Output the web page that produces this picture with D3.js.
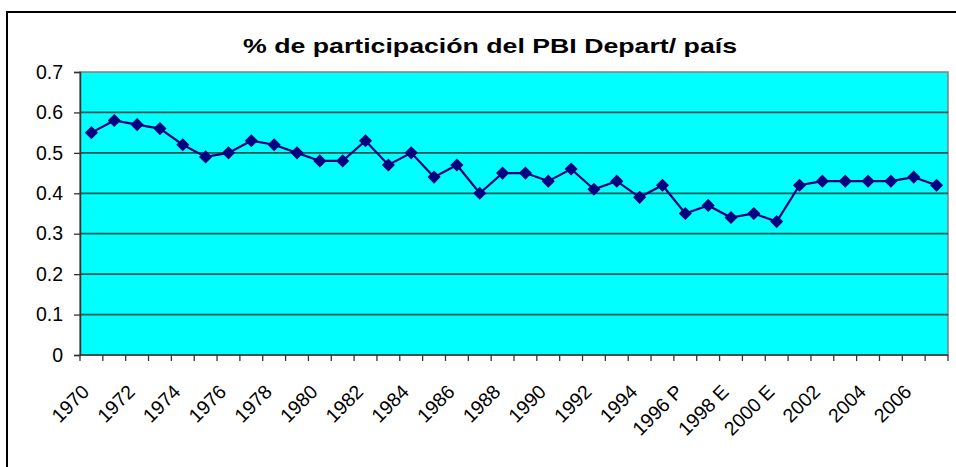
<!DOCTYPE html>
<html>
<head>
<meta charset="utf-8">
<style type="text/css">
html, body{
	padding: 0;
	margin: 0;
	background: white;
}
text{
	font-family: "Liberation Sans", Arial, sans-serif;
	fill: black;
}
</style>
</head>
<body>
<svg width=956 height=467></svg>
<script src="https://cdn.jsdelivr.net/npm/d3@7"></script>
<script type="text/javascript">
var title = '% de participación del PBI Depart/ país';
var years = ['1970','1971','1972','1973','1974','1975','1976','1977','1978','1979',
	'1980','1981','1982','1983','1984','1985','1986','1987','1988','1989',
	'1990','1991','1992','1993','1994','1995','1996 P','1997 P','1998 E','1999 E',
	'2000 E','2001','2002','2003','2004','2005','2006','2007'];
var values = [0.55,0.58,0.57,0.56,0.52,0.49,0.50,0.53,0.52,0.50,
	0.48,0.48,0.53,0.47,0.50,0.44,0.47,0.40,0.45,0.45,
	0.43,0.46,0.41,0.43,0.39,0.42,0.35,0.37,0.34,0.35,
	0.33,0.42,0.43,0.43,0.43,0.43,0.44,0.42];
var yTicks = [0,0.1,0.2,0.3,0.4,0.5,0.6,0.7];

var svg = d3.select('svg');
var pLeft = 80, pRight = 948, pTop = 72, pBottom = 355;

// outer frame (runs off the right and bottom of the picture)
svg.append('rect')
	.attr('x',7).attr('y',12).attr('width',970).attr('height',480)
	.style('fill','none').style('stroke','black').style('stroke-width',2);

svg.append('text')
	.attr('x',490).attr('y',53)
	.attr('text-anchor','middle')
	.style('font-size','21px').style('font-weight','bold')
	.attr('textLength',494).attr('lengthAdjust','spacingAndGlyphs')
	.text(title);

var x = d3.scaleBand().domain(years).range([pLeft,pRight]);
var y = d3.scaleLinear().domain([0,0.7]).range([pBottom,pTop]);

svg.append('rect')
	.attr('x',pLeft).attr('y',pTop).attr('width',pRight-pLeft).attr('height',pBottom-pTop)
	.style('fill','#00ffff').style('stroke','#808080').style('stroke-width',1.5);

// gridlines
svg.selectAll('line.grid')
	.data(yTicks.filter(d=>d>0 && d<0.7))
	.enter()
	.append('line')
	.attr('class','grid')
	.attr('x1',pLeft).attr('x2',pRight)
	.attr('y1',d=>y(d)).attr('y2',d=>y(d))
	.style('stroke','#1f5656').style('stroke-width',1.7);

// y axis
var yAxis = svg.append('g')
	.attr('transform','translate('+pLeft+',0)')
	.call(d3.axisLeft(y).tickValues(yTicks).tickSize(6).tickPadding(11).tickFormat(d=>d===0?'0':d3.format('.1f')(d)));
yAxis.select('.domain').style('stroke','#333').style('stroke-width',1.5);
yAxis.selectAll('line').style('stroke','#333').style('stroke-width',1.3);
yAxis.selectAll('text').style('font-size','19.5px').style('font-family','"Liberation Sans", Arial, sans-serif');

// x axis: ticks on category boundaries
var xg = svg.append('g');
xg.append('line')
	.attr('x1',pLeft).attr('x2',pRight).attr('y1',pBottom).attr('y2',pBottom)
	.style('stroke','#333').style('stroke-width',1.5);
xg.selectAll('line.tick')
	.data(years.concat(['end']))
	.enter()
	.append('line')
	.attr('class','tick')
	.attr('x1',(d,i)=>pLeft+i*x.bandwidth()).attr('x2',(d,i)=>pLeft+i*x.bandwidth())
	.attr('y1',pBottom).attr('y2',pBottom+6)
	.style('stroke','#333').style('stroke-width',1.3);
xg.selectAll('text')
	.data(years.filter((d,i)=>i%2===0 && i<37))
	.enter()
	.append('text')
	.attr('text-anchor','end')
	.attr('transform',d=>'translate('+(x(d)+x.bandwidth()/2-1)+','+(pBottom+38)+') rotate(-45)')
	.style('font-size','19.5px')
	.text(d=>d);

// series
var line = d3.line()
	.x((d,i)=>x(years[i])+x.bandwidth()/2)
	.y(d=>y(d));
svg.append('path')
	.datum(values)
	.attr('d',line)
	.style('fill','none').style('stroke','#000080').style('stroke-width',2.2);

svg.selectAll('path.marker')
	.data(values)
	.enter()
	.append('path')
	.attr('class','marker')
	.attr('d',d3.symbol().type(d3.symbolDiamond2).size(110))
	.attr('transform',(d,i)=>'translate('+(x(years[i])+x.bandwidth()/2)+','+y(d)+')')
	.style('fill','#000080');
</script>
</body>
</html>
